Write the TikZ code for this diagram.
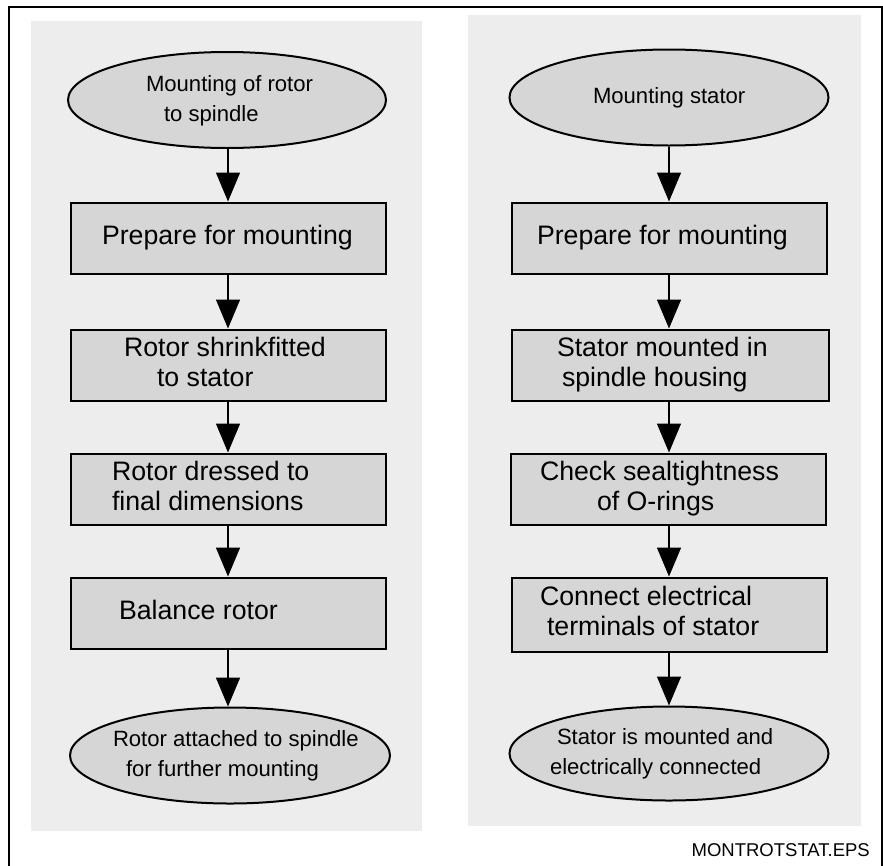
\documentclass[tikz,border=0pt]{standalone}
\usepackage{fontspec}
\setmainfont{Liberation Sans}
\usetikzlibrary{arrows.meta, shapes.geometric}

\definecolor{panelgray}{RGB}{237,237,237}
\definecolor{boxgray}{RGB}{214,214,214}

% text block placed with its left edge #1 from the node centre
\newcommand{\txtlines}[2]{\makebox[0pt][l]{\hspace*{#1}%
  \begin{tabular}{@{}l@{}}#2\end{tabular}}}

\begin{document}
\begin{tikzpicture}[
    x=1pt, y=-1pt,
    stepbox/.style={draw, line width=2pt, fill=boxgray, inner sep=0pt,
                    minimum width=315pt, minimum height=71pt,
                    font=\fontsize{26.7}{30}\selectfont},
    terminal/.style={draw, ellipse, line width=2pt, fill=boxgray,
                     inner sep=0pt, minimum width=318pt,
                     minimum height=96pt,
                     font=\fontsize{22.1}{30}\selectfont},
    flow/.style={line width=1.5pt, ->},
    >={Triangle[length=29pt, width=24pt]}
  ]
  \useasboundingbox (0,0) rectangle (883,865);

  % frame and the two panels
  \draw[line width=2pt] (9,866) -- (9,7) -- (882,7) -- (882,866);
  \fill[panelgray] (31,21) rectangle (422,831);
  \fill[panelgray] (468,15) rectangle (861,826);

  % rotor
  \node[terminal] (rotstart) at (227,100)
    {\txtlines{-81pt}{Mounting of rotor\\\hspace*{18pt}to spindle}};
  \node[stepbox] (rotprep) at (228,238)
    {\txtlines{-126pt}{Prepare for mounting}};
  \node[stepbox] (rotshrink) at (228,365)
    {\txtlines{-104pt}{Rotor shrinkfitted\\\hspace*{33pt}to stator}};
  \node[stepbox] (rotdress) at (228,489)
    {\txtlines{-116pt}{Rotor dressed to\\final dimensions}};
  \node[stepbox] (rotbal) at (228,613)
    {\txtlines{-109pt}{Balance rotor}};
  \node[terminal, minimum width=320pt] (rotend) at (230,755.5)
    {\txtlines{-117pt}{Rotor attached to spindle\\\hspace*{13pt}for further mounting}};

  % stator
  \node[terminal, minimum width=319pt] (statstart) at (669,97.5)
    {\txtlines{-76pt}{Mounting stator}};
  \node[stepbox] (statprep) at (669,238)
    {\txtlines{-132pt}{Prepare for mounting}};
  \node[stepbox, minimum width=317pt] (statmount) at (670,365)
    {\txtlines{-113pt}{Stator mounted in\\\hspace*{5pt}spindle housing}};
  \node[stepbox] (statseal) at (668,489)
    {\txtlines{-128pt}{Check sealtightness\\\hspace*{57pt}of O-rings}};
  \node[stepbox, minimum height=74pt] (statconn) at (669,614.5)
    {\txtlines{-129pt}{Connect electrical\\\hspace*{7pt}terminals of stator}};
  \node[terminal, minimum width=319pt, minimum height=94pt] (statend) at (669,753.5)
    {\txtlines{-119pt}{\hspace*{7pt}Stator is mounted and\\electrically connected}};

  \draw[flow] (rotstart.south -| rotprep) -- (rotprep.north);
  \draw[flow] (rotprep.south) -- (rotshrink.north);
  \draw[flow] (rotshrink.south) -- (rotdress.north);
  \draw[flow] (rotdress.south) -- (rotbal.north);
  \draw[flow] (rotbal.south) -- (rotbal.south |- rotend.north);

  \draw[flow] (statstart.south) -- (statprep.north);
  \draw[flow] (statprep.south) -- (statprep.south |- statmount.north);
  \draw[flow] (statmount.south -| statprep) -- (statprep |- statseal.north);
  \draw[flow] (statseal.south -| statprep) -- (statconn.north);
  \draw[flow] (statconn.south) -- (statend.north);

  \node[anchor=base east, inner sep=0pt, font=\fontsize{18.5}{22}\selectfont]
    (figname) at (870,856) {MONTROTSTAT.EPS};
\end{tikzpicture}
\end{document}
